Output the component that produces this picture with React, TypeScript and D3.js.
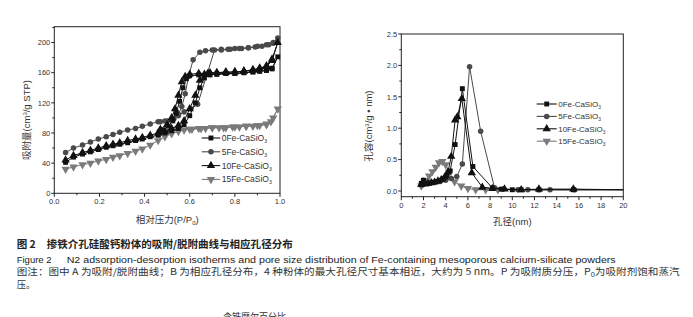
import React from "react";
import * as d3 from "d3";

// ---------- Left chart: N2 adsorption-desorption isotherms ----------
const ADS_P_LOW = [0.05, 0.085, 0.125, 0.16, 0.195, 0.23, 0.26, 0.29, 0.325, 0.36, 0.39, 0.425, 0.46, 0.49, 0.52, 0.55, 0.575];

const FE0_ADS_P = [...ADS_P_LOW, 0.6, 0.625, 0.645, 0.665, 0.69, 0.72, 0.76, 0.8, 0.84, 0.88, 0.91, 0.94, 0.965, 0.99];
const FE0_ADS_V = [41, 48, 52, 55, 58, 61, 63, 65, 67, 70, 72, 75, 77, 80, 83, 86, 91, 103, 120, 140, 153, 157, 158, 159, 159, 160, 161, 162, 163, 165, 181];
const FE0_DES_P = [0.965, 0.94, 0.91, 0.88, 0.84, 0.8, 0.76, 0.72, 0.68, 0.64, 0.6, 0.585, 0.57, 0.555, 0.54, 0.525, 0.505, 0.48];
const FE0_DES_V = [166, 163, 162, 161, 160, 159, 159, 158, 158, 157, 156, 152, 140, 122, 106, 96, 89, 84];

const FE5_ADS_P = [...ADS_P_LOW, 0.605, 0.635, 0.71, 0.74, 0.77, 0.8, 0.83, 0.86, 0.89, 0.92, 0.95, 0.97, 0.99];
const FE5_ADS_V = [54, 60, 64, 68, 72, 75, 78, 81, 84, 86, 89, 92, 95, 96, 98, 103, 108, 112, 118, 190, 191, 191, 192, 192, 193, 194, 195, 197, 199, 206];
const FE5_DES_P = [0.97, 0.94, 0.9, 0.86, 0.82, 0.78, 0.74, 0.7, 0.67, 0.645, 0.615, 0.595, 0.58, 0.565, 0.55, 0.53, 0.5, 0.47];
const FE5_DES_V = [200, 197, 195, 193, 192, 191, 190, 190, 189, 187, 177, 155, 132, 115, 105, 99, 96, 95];

const FE10_ADS_P = [...ADS_P_LOW, 0.6, 0.625, 0.645, 0.665, 0.69, 0.72, 0.76, 0.8, 0.84, 0.88, 0.91, 0.94, 0.965, 0.99];
const FE10_ADS_V = [44, 50, 54, 57, 60, 63, 65, 67, 70, 72, 74, 77, 80, 82, 86, 90, 96, 112, 130, 150, 158, 160, 160, 161, 161, 162, 163, 165, 168, 176, 200];
const FE10_DES_P = [0.965, 0.94, 0.91, 0.88, 0.84, 0.8, 0.76, 0.72, 0.68, 0.64, 0.6, 0.58, 0.565, 0.55, 0.535, 0.52, 0.5, 0.47];
const FE10_DES_V = [178, 169, 166, 164, 162, 161, 160, 160, 159, 159, 158, 155, 148, 130, 112, 100, 91, 85];

const FE15_ADS_P = [...ADS_P_LOW, 0.61, 0.64, 0.67, 0.7, 0.73, 0.76, 0.79, 0.82, 0.85, 0.88, 0.91, 0.94, 0.96, 0.99];
const FE15_ADS_V = [32, 35, 38, 40, 43, 45, 48, 50, 53, 56, 59, 64, 70, 75, 79, 82, 84, 85, 86, 86, 87, 87, 87, 88, 88, 89, 89, 90, 91, 95, 112];
const FE15_DES_P = [0.97, 0.94, 0.9, 0.85, 0.8, 0.75, 0.7, 0.65, 0.6, 0.55, 0.5, 0.47];
const FE15_DES_V = [100, 92, 90, 89, 88, 87, 87, 86, 85, 84, 82, 80];

const ISO_X_TICKS = [0, 0.2, 0.4, 0.6, 0.8, 1.0];
const ISO_Y_TICKS = [0, 40, 80, 120, 160, 200];

// ---------- Right chart: pore size distribution ----------
const PSD_0FE_D = [1.8, 2.0, 2.3, 2.6, 2.9, 3.2, 3.5, 3.8, 4.1, 4.4, 4.85, 5.5, 6.45, 8.2, 9.0, 10.0, 10.8, 12.4, 15.5, 20];
const PSD_0FE_V = [0.12, 0.17, 0.12, 0.13, 0.14, 0.15, 0.17, 0.2, 0.24, 0.32, 0.74, 1.63, 0.39, 0.05, 0.03, 0.02, 0.02, 0.02, 0.02, 0.02];
const PSD_5FE_D = [1.8, 2.0, 2.5, 3.0, 3.5, 4.0, 4.5, 5.0, 5.5, 6.15, 7.15, 8.4, 9.2, 10.5, 11.4, 12.4, 13.4, 15.6, 20];
const PSD_5FE_V = [0.1, 0.17, 0.12, 0.14, 0.15, 0.17, 0.2, 0.23, 0.43, 1.98, 0.95, 0.05, 0.03, 0.02, 0.02, 0.02, 0.02, 0.02, 0.02];
const PSD_10FE_D = [1.8, 2.1, 2.4, 2.7, 3.0, 3.3, 3.6, 3.9, 4.2, 4.5, 4.85, 5.05, 5.45, 6.35, 7.3, 8.2, 9.3, 10.8, 12.4, 15.5, 20];
const PSD_10FE_V = [0.1, 0.11, 0.12, 0.13, 0.14, 0.16, 0.18, 0.22, 0.3, 0.55, 1.13, 1.18, 1.47, 0.29, 0.06, 0.04, 0.03, 0.02, 0.03, 0.03, 0.02];
const PSD_15FE_D = [1.8, 2.0, 2.2, 2.5, 2.8, 3.1, 3.4, 3.7, 4.0, 4.3, 4.8, 5.4, 6.0, 6.7, 7.6, 8.7, 20];
const PSD_15FE_V = [0.08, 0.12, 0.17, 0.24, 0.31, 0.38, 0.45, 0.47, 0.42, 0.3, 0.15, 0.08, 0.04, 0.02, 0.02, 0.02, 0.02];

const PSD_X_TICKS = [0, 2, 4, 6, 8, 10, 12, 14, 16, 18, 20];
const PSD_Y_TICKS = [0, 0.5, 1.0, 1.5, 2.0, 2.5];

const SERIES_NAMES = ["0Fe-CaSiO", "5Fe-CaSiO", "10Fe-CaSiO", "15Fe-CaSiO"];
const SERIES_SHAPES = ["square", "circle", "triangle", "triangleDown"];
const SERIES_COLORS = ["#111111", "#4a4a4a", "#111111", "#7a7a7a"];

const LATIN = "'Liberation Sans', Arial, sans-serif";
const CJK = "'Noto Sans CJK SC', 'Liberation Sans', sans-serif";

function markerPath(shape: string): string {
  const sym =
    shape === "square" ? d3.symbolSquare :
    shape === "circle" ? d3.symbolCircle : d3.symbolTriangle;
  const size = shape === "square" ? 24 : shape === "circle" ? 24 : 30;
  return d3.symbol().type(sym).size(size)() || "";
}

function Marker({ x, y, shape, color }: { x: number; y: number; shape: string; color: string }) {
  const rot = shape === "triangleDown" ? 180 : 0;
  return <path d={markerPath(shape)} transform={`translate(${x},${y}) rotate(${rot})`} fill={color} stroke="none" />;
}

function zip(xs: number[], ys: number[]): [number, number][] {
  return xs.map((x, i) => [x, ys[i]] as [number, number]);
}

function Legend({ x0, y0, dy, lineLen, fontSize }: { x0: number; y0: number; dy: number; lineLen: number; fontSize: number }) {
  return (
    <g>
      {SERIES_NAMES.map((name, i) => {
        const y = y0 + i * dy;
        return (
          <g key={name}>
            <line x1={x0} x2={x0 + lineLen} y1={y} y2={y} stroke={SERIES_COLORS[i]} strokeWidth={1.1} />
            <Marker x={x0 + lineLen / 2} y={y} shape={SERIES_SHAPES[i]} color={SERIES_COLORS[i]} />
            <text x={x0 + lineLen + 1.5} y={y + fontSize * 0.36} fontFamily={LATIN} fontSize={fontSize} fill="#333">
              {name}
              <tspan fontSize={fontSize * 0.6} dy={2}>3</tspan>
            </text>
          </g>
        );
      })}
    </g>
  );
}

function IsothermChart() {
  const L = 54.3, R = 280, T = 26.7, B = 193.3;
  const x = d3.scaleLinear().domain([0, 1]).range([L, R]);
  const y = d3.scaleLinear().domain([0, 221]).range([B, T]);
  const line = d3.line<[number, number]>().x(d => x(d[0])).y(d => y(d[1]));
  const series = [
    [...zip(FE0_ADS_P, FE0_ADS_V), ...zip(FE0_DES_P, FE0_DES_V)],
    [...zip(FE5_ADS_P, FE5_ADS_V), ...zip(FE5_DES_P, FE5_DES_V)],
    [...zip(FE10_ADS_P, FE10_ADS_V), ...zip(FE10_DES_P, FE10_DES_V)],
    [...zip(FE15_ADS_P, FE15_ADS_V), ...zip(FE15_DES_P, FE15_DES_V)],
  ];
  const minorX = d3.range(0.1, 1, 0.2);
  const minorY = d3.range(20, 221, 40);
  const order = [3, 1, 2, 0];
  return (
    <g>
      <rect x={L} y={T} width={R - L} height={B - T} fill="none" stroke="#222" strokeWidth={1} />
      {ISO_X_TICKS.map(t => (
        <g key={"xt" + t}>
          <line x1={x(t)} x2={x(t)} y1={B} y2={B + 3.5} stroke="#222" />
          <text x={x(t)} y={B + 11} textAnchor="middle" fontFamily={LATIN} fontSize={7.5} fill="#333">{t.toFixed(1)}</text>
        </g>
      ))}
      {minorX.map(t => <line key={"xm" + t} x1={x(t)} x2={x(t)} y1={B} y2={B + 2} stroke="#222" />)}
      {ISO_Y_TICKS.map(t => (
        <g key={"yt" + t}>
          <line x1={L - 3} x2={L} y1={y(t)} y2={y(t)} stroke="#222" />
          <text x={L - 4} y={y(t) + 2.7} textAnchor="end" fontFamily={LATIN} fontSize={7.5} fill="#333">{t}</text>
        </g>
      ))}
      {minorY.map(t => <line key={"ym" + t} x1={L - 2} x2={L} y1={y(t)} y2={y(t)} stroke="#222" />)}
      {order.map(i => (
        <g key={"s" + i}>
          <path d={line(series[i]) || ""} fill="none" stroke={SERIES_COLORS[i]} strokeWidth={1} />
          {series[i].map((d, j) => (
            <Marker key={j} x={x(d[0])} y={y(d[1])} shape={SERIES_SHAPES[i]} color={SERIES_COLORS[i]} />
          ))}
        </g>
      ))}
      <Legend x0={201.7} y0={138} dy={13.8} lineLen={18.5} fontSize={8.5} />
      <text x={(L + R) / 2} y={223} textAnchor="middle" fontSize={9.5} fill="#333">
        <tspan fontFamily={CJK}>相对压力</tspan>
        <tspan fontFamily={LATIN}>(P/P</tspan>
        <tspan fontFamily={LATIN} fontSize={6} dy={2}>0</tspan>
        <tspan fontFamily={LATIN} dy={-2}>)</tspan>
      </text>
      <text transform="translate(29.5,120) rotate(-90)" textAnchor="middle" fontSize={9.5} fill="#333">
        <tspan fontFamily={CJK}>吸附量</tspan>
        <tspan fontFamily={LATIN}>(cm</tspan>
        <tspan fontFamily={LATIN} fontSize={6} dy={-3}>3</tspan>
        <tspan fontFamily={LATIN} dy={3}>/g STP)</tspan>
      </text>
    </g>
  );
}

function PoreChart() {
  const L = 401.3, R = 623.3, T = 34, B = 196.7;
  const x = d3.scaleLinear().domain([0, 20]).range([L, R]);
  const y = d3.scaleLinear().domain([0, 2.5]).range([191, 34]);
  const line = d3.line<[number, number]>().x(d => x(d[0])).y(d => y(d[1]));
  const series = [
    zip(PSD_0FE_D, PSD_0FE_V),
    zip(PSD_5FE_D, PSD_5FE_V),
    zip(PSD_10FE_D, PSD_10FE_V),
    zip(PSD_15FE_D, PSD_15FE_V),
  ];
  const minorX = d3.range(1, 20, 2);
  const minorY = [0.25, 0.75, 1.25, 1.75, 2.25];
  const order = [3, 1, 2, 0];
  return (
    <g>
      <rect x={L} y={T} width={R - L} height={B - T} fill="none" stroke="#222" strokeWidth={1} />
      {PSD_X_TICKS.map(t => (
        <g key={"xt" + t}>
          <line x1={x(t)} x2={x(t)} y1={B} y2={B + 3.5} stroke="#222" />
          <text x={x(t)} y={B + 11} textAnchor="middle" fontFamily={LATIN} fontSize={7.5} fill="#333">{t}</text>
        </g>
      ))}
      {minorX.map(t => <line key={"xm" + t} x1={x(t)} x2={x(t)} y1={B} y2={B + 2} stroke="#222" />)}
      {PSD_Y_TICKS.map(t => (
        <g key={"yt" + t}>
          <line x1={L - 3} x2={L} y1={y(t)} y2={y(t)} stroke="#222" />
          <text x={L - 4} y={y(t) + 2.7} textAnchor="end" fontFamily={LATIN} fontSize={7.5} fill="#333">{t.toFixed(1)}</text>
        </g>
      ))}
      {minorY.map(t => <line key={"ym" + t} x1={L - 2} x2={L} y1={y(t)} y2={y(t)} stroke="#222" />)}
      {order.map(i => (
        <g key={"s" + i}>
          <path d={line(series[i]) || ""} fill="none" stroke={SERIES_COLORS[i]} strokeWidth={1} />
          {series[i].filter(d => d[0] < 19.5).map((d, j) => (
            <Marker key={j} x={x(d[0])} y={y(d[1])} shape={SERIES_SHAPES[i]} color={SERIES_COLORS[i]} />
          ))}
        </g>
      ))}
      <Legend x0={536.7} y0={104} dy={12.4} lineLen={20} fontSize={8} />
      <text x={(L + R) / 2} y={225} textAnchor="middle" fontSize={9.5} fill="#333">
        <tspan fontFamily={CJK}>孔径</tspan>
        <tspan fontFamily={LATIN}>(nm)</tspan>
      </text>
      <text transform="translate(371.5,126) rotate(-90)" textAnchor="middle" fontSize={9.5} fill="#333">
        <tspan fontFamily={CJK}>孔容</tspan>
        <tspan fontFamily={LATIN}>(cm</tspan>
        <tspan fontFamily={LATIN} fontSize={6} dy={-3}>3</tspan>
        <tspan fontFamily={LATIN} dy={3}>/g • nm)</tspan>
      </text>
    </g>
  );
}

function Captions() {
  return (
    <g fill="#222">
      <text x={16.7} y={248} fontFamily={CJK} fontSize={10.5} fontWeight="bold">图 2</text>
      <text x={46.7} y={248} fontFamily={CJK} fontSize={10.5} fontWeight="bold" textLength={246} lengthAdjust="spacingAndGlyphs">
        掺铁介孔硅酸钙粉体的吸附/脱附曲线与相应孔径分布
      </text>
      <text x={16.7} y={263.3} fontFamily={LATIN} fontSize={9.5}>Figure 2</text>
      <text x={66.7} y={263.3} fontFamily={LATIN} fontSize={9.5} textLength={549} lengthAdjust="spacingAndGlyphs">
        N2 adsorption-desorption isotherms and pore size distribution of Fe-containing mesoporous calcium-silicate powders
      </text>
      <text x={16.7} y={275} fontFamily={CJK} fontSize={9.3} fill="#333" textLength={663} lengthAdjust="spacingAndGlyphs">
        图注：图中 A 为吸附/脱附曲线；B 为相应孔径分布，4 种粉体的最大孔径尺寸基本相近，大约为 5 nm。P 为吸附质分压，P<tspan fontSize={6.5} dy={1.5}>0</tspan><tspan dy={-1.5}>为吸附剂饱和蒸汽</tspan>
      </text>
      <text x={16.7} y={287.5} fontFamily={CJK} fontSize={9.3} fill="#333">压。</text>
      <text x={223} y={320} fontFamily={CJK} fontSize={9} fill="#333">含铁摩尔百分比</text>
    </g>
  );
}

export default function App() {
  return (
    <svg width={693} height={317} viewBox="0 0 693 317" style={{ position: "absolute", left: 0, top: 0, background: "#fff" }}>
      <rect width={693} height={317} fill="#fff" />
      <IsothermChart />
      <PoreChart />
      <Captions />
    </svg>
  );
}
